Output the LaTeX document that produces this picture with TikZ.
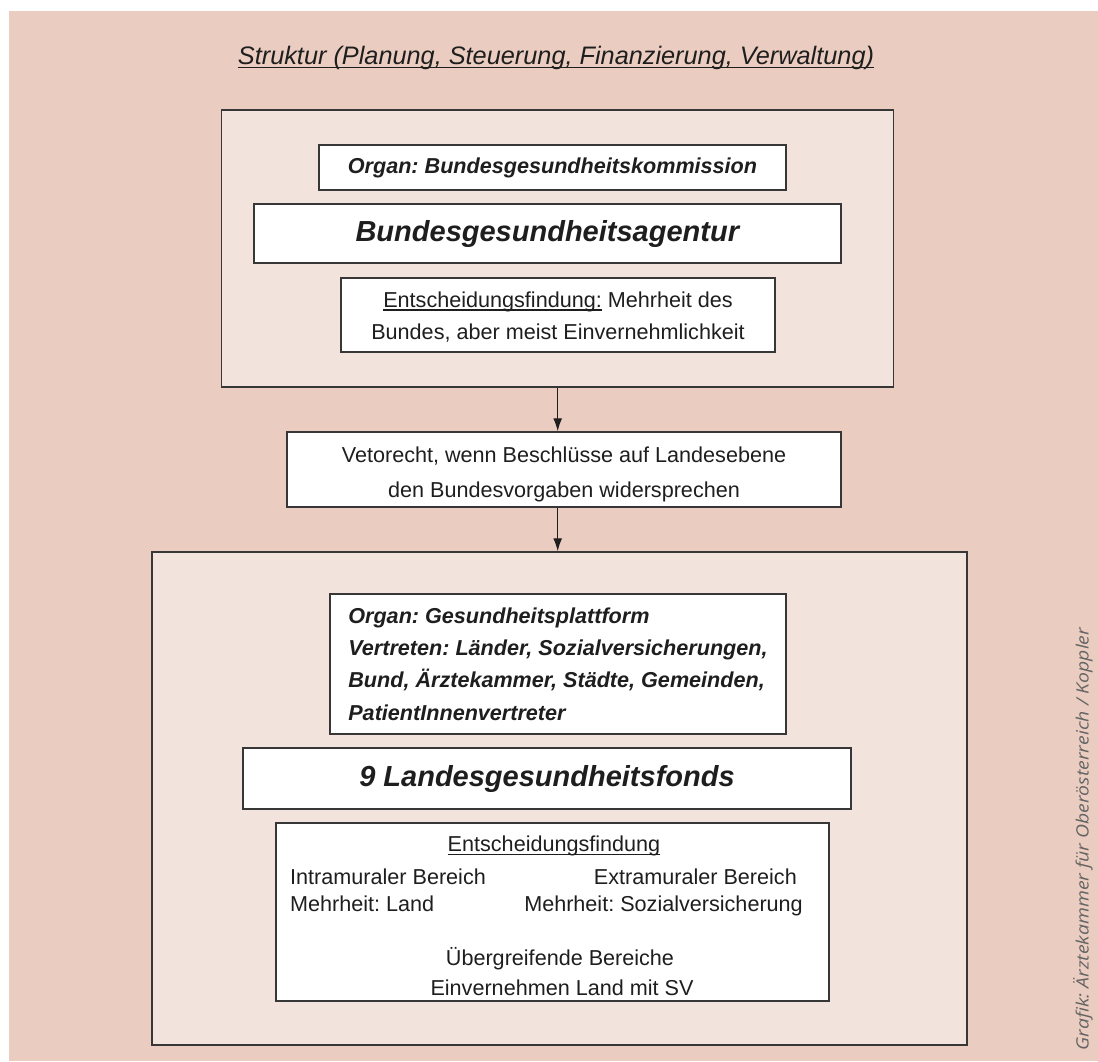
\documentclass[tikz,border=0pt]{standalone}
\usepackage{fontspec}
\setmainfont{Liberation Sans}
\newfontfamily\sidefont[FakeStretch=1.14]{Open Sans}
\usetikzlibrary{arrows.meta}
\newcommand\txtul[1]{\setbox0=\hbox{#1}\leavevmode\rlap{\rule[-3.4pt]{\wd0}{1.3pt}}\box0\relax}
\frenchspacing
\definecolor{bgpink}{RGB}{234,205,192}
\definecolor{panel}{RGB}{242,228,220}
\definecolor{edge}{RGB}{55,55,55}
\definecolor{ink}{RGB}{30,30,30}
\definecolor{credit}{RGB}{100,100,100}
\tikzset{
 panelbox/.style={draw=edge, line width=1.5pt, fill=panel, inner sep=0pt},
 whitebox/.style={draw=edge, line width=1.5pt, fill=white, inner sep=0pt, text=ink, align=center},
 bodyfont/.style={font=\fontsize{21.6}{35}\selectfont},
 bigbold/.style={font=\fontsize{29}{34}\selectfont\bfseries\itshape},
 plain/.style={text=ink, inner sep=0pt, font=\fontsize{21.6}{32}\selectfont},
 arr/.style={draw=ink, line width=1.2pt, -{Latex[length=13pt,width=9pt]}},
}
\begin{document}
\begin{tikzpicture}[x=1pt,y=-1pt]
\useasboundingbox (0,0) rectangle (1098,1061);
\fill[bgpink] (9,11) rectangle (1098,1061);
\node[plain, font=\fontsize{25.3}{30}\selectfont\itshape] (title) at (556,58) {\txtul{Struktur (Planung, Steuerung, Finanzierung, Verwaltung)}};

\node[panelbox, minimum width=672, minimum height=277] (top) at (557.7,248.3) {};
\node[whitebox, minimum width=467, minimum height=45, font=\fontsize{21.6}{26}\selectfont\bfseries\itshape] (organ) at (552.5,167.5) {Organ: Bundesgesundheitskommission};
\node[whitebox, minimum width=587, minimum height=59, bigbold] (agentur) at (547.3,233.5) {Bundesgesundheitsagentur};
\node[whitebox, minimum width=434, minimum height=74, font=\fontsize{21.6}{32}\selectfont] (entsch) at (558,315) {\rule{0pt}{19pt}\txtul{Entscheidungsfindung:} Mehrheit des\\Bundes, aber meist Einvernehmlichkeit};

\node[whitebox, minimum width=554, minimum height=75, bodyfont] (veto) at (564,469.5) {\rule{0pt}{26pt}Vetorecht, wenn Beschlüsse auf Landesebene\\den Bundesvorgaben widersprechen};

\node[panelbox, minimum width=815, minimum height=493] (bottom) at (559.5,798.5) {};
\node[whitebox, align=left, minimum width=456, minimum height=140, font=\fontsize{21.6}{32.3}\selectfont\bfseries\itshape] (platt) at (558,664) {Organ: Gesundheitsplattform\\Vertreten: Länder, Sozialversicherungen,\\Bund, Ärztekammer, Städte, Gemeinden,\\PatientInnenvertreter};
\node[whitebox, minimum width=608, minimum height=61, bigbold] (fonds) at (547,778.5) {9 Landesgesundheitsfonds};
\node[whitebox, minimum width=553, minimum height=178] (dec) at (552.5,912) {};
\node[plain] (dechead) at (554,846) {\txtul{Entscheidungsfindung}};
\node[plain, anchor=base west] (intra) at (290,884.5) {Intramuraler Bereich};
\node[plain, anchor=base east] (extra) at (797,884.5) {Extramuraler Bereich};
\node[plain, anchor=base west] (mland) at (290,911.5) {Mehrheit: Land};
\node[plain, anchor=base east] (msv) at (803,911.5) {Mehrheit: Sozialversicherung};
\node[plain] (ueber) at (560,959) {Übergreifende Bereiche};
\node[plain] (einv) at (562,988) {Einvernehmen Land mit SV};

\draw[arr] (top.south) -- (top.south |- veto.north);
\draw[arr] (veto.south -| top.south) -- (bottom.north -| top.south);

\node[text=credit, rotate=90, inner sep=0pt, font=\sidefont\itshape\fontsize{17}{19}\selectfont] (credit) at (1083,839) {Grafik: Ärztekammer für Oberösterreich / Koppler};
\end{tikzpicture}
\end{document}
